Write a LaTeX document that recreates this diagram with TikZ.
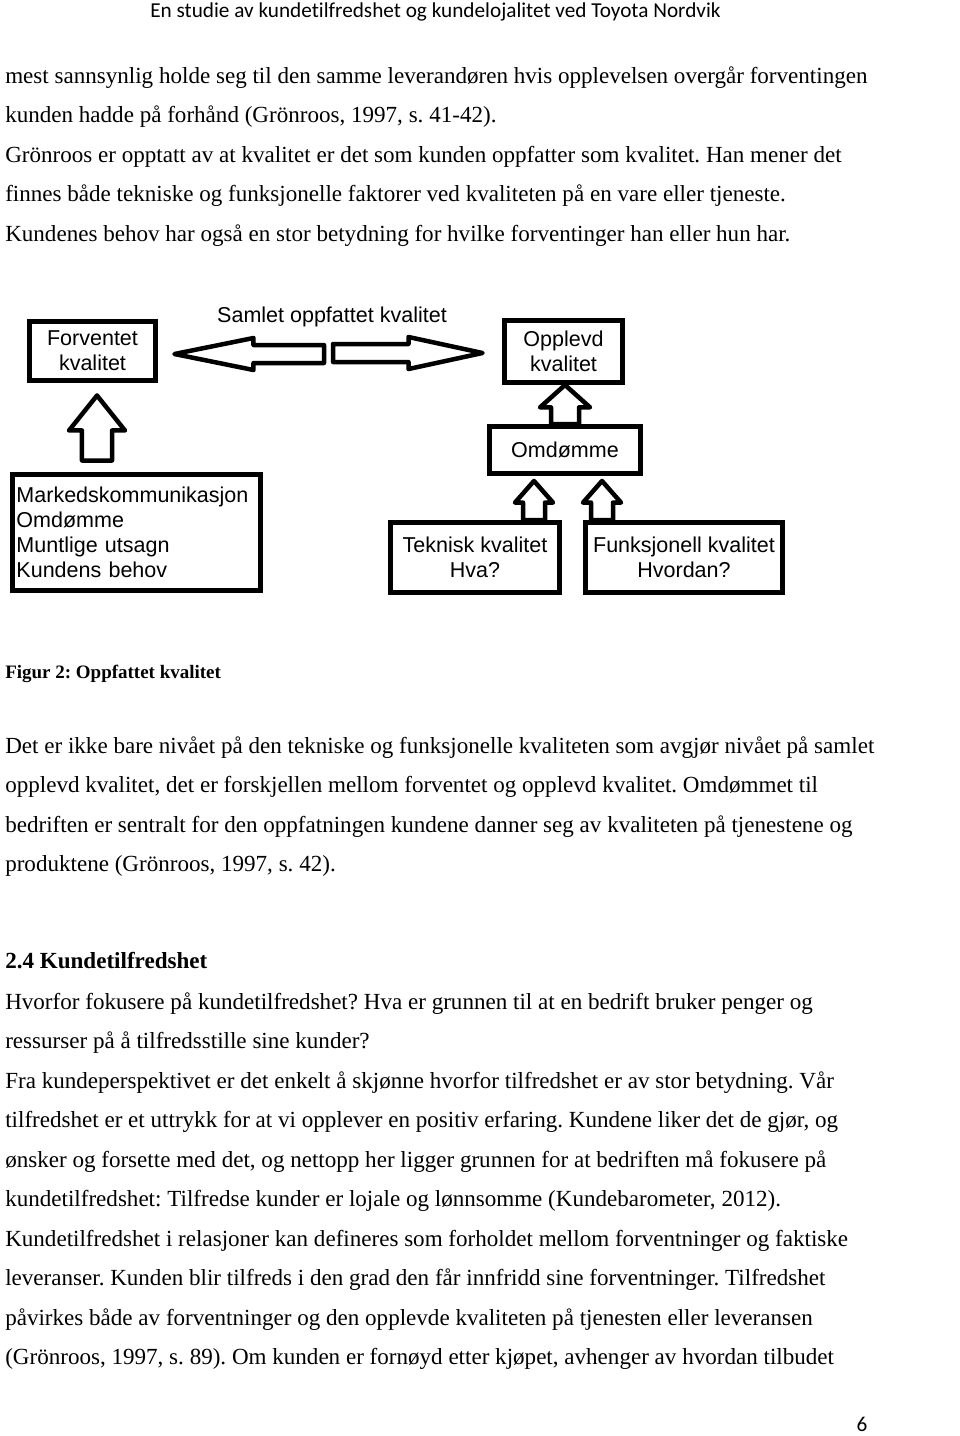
\documentclass[tikz,border=0pt]{standalone}
\usepackage{fontspec}
\setmainfont{Liberation Serif}[Ligatures={TeX,NoCommon}]
\newfontfamily\arialfam{Liberation Sans}[Ligatures=NoCommon]
\newfontfamily\calibfam{Carlito}[Ligatures=NoCommon]
\usetikzlibrary{calc}
\frenchspacing

\newcommand{\diagfont}{\arialfam\fontsize{15.3}{17.8}\selectfont}
\newcommand{\bodyfont}{\fontsize{16.4}{28}\selectfont}

% hollow block arrows: bottom/start, tip, shaft half width, head half width, head length
\newcommand{\blockup}[5]{%
  \draw[blockarr] let \p1=(#1), \p2=(#2) in
    (\x1-#3,\y1) -- (\x1-#3,\y2-#5) -- (\x1-#4,\y2-#5) -- (\x1,\y2)
    -- (\x1+#4,\y2-#5) -- (\x1+#3,\y2-#5) -- (\x1+#3,\y1) -- cycle;}
\newcommand{\blockside}[5]{%
  \draw[blockarr] let \p1=(#1), \p2=(#2) in
    (\x1,{\y2-#3}) -- ({\x2-(#5)},{\y2-#3}) -- ({\x2-(#5)},{\y2-#4}) -- (\x2,\y2)
    -- ({\x2-(#5)},{\y2+#4}) -- ({\x2-(#5)},{\y2+#3}) -- (\x1,{\y2+#3}) -- cycle;}

\tikzset{
  qbox/.style={draw, line width=3.5pt, font=\diagfont, align=center, inner sep=0pt},
  blockarr/.style={draw, fill=white, line width=3.2pt, line join=round},
  body/.style={anchor=base west, inner sep=0pt, font=\bodyfont},
}

\begin{document}
\begin{tikzpicture}[x=0.025cm,y=-0.025cm]
  \fill[white] (0,0) rectangle (960,1436);
  \useasboundingbox (0,0) rectangle (960,1436);

  \node[anchor=base west, inner sep=0pt, font=\calibfam\fontsize{15.1}{18}\selectfont] (hdr) at (150,17)
    {En studie av kundetilfredshet og kundelojalitet ved Toyota Nordvik};

  \foreach \ln [count=\i] in {
    {mest sannsynlig holde seg til den samme leverandøren hvis opplevelsen overgår forventingen},
    {kunden hadde på forhånd (Grönroos, 1997, s. 41-42).},
    {Grönroos er opptatt av at kvalitet er det som kunden oppfatter som kvalitet. Han mener det},
    {finnes både tekniske og funksjonelle faktorer ved kvaliteten på en vare eller tjeneste.},
    {Kundenes behov har også en stor betydning for hvilke forventinger han eller hun har.}}
    \node[body] (pa-\i) at (5,{83+39.5*(\i-1)}) {\ln};

  % figure
  \node[qbox, minimum width=3.15cm, minimum height=1.475cm] (forv) at (92.5,351) {Forventet\\kvalitet};
  \node[qbox, minimum width=2.95cm, minimum height=1.55cm] (oppl) at (563.5,351.5) {Opplevd\\kvalitet};
  \node[qbox, minimum width=3.775cm, minimum height=1.175cm] (omd) at (565,450) {Omdømme};
  \node[qbox, minimum width=6.2cm, minimum height=2.9cm, text width=6.0cm, inner xsep=0.1cm, align=left]
    (mark) at (136.5,532.5) {Markedskommunikasjon\\Omdømme\\Muntlige utsagn\\Kundens behov};
  \node[qbox, minimum width=4.225cm, minimum height=1.75cm] (tek) at (475,557.5) {Teknisk kvalitet\\Hva?};
  \node[qbox, minimum width=4.925cm, minimum height=1.75cm] (funk) at (684,557.5) {Funksjonell kvalitet\\Hvordan?};

  \coordinate (mk) at ($(mark.north -| forv.south)+(4.5,-11.5)$);
  \coordinate (fv) at ($(forv.south)+(4.5,12.5)$);
  \blockup{mk}{fv}{0.375cm}{0.7cm}{0.875cm}
  \blockup{omd.north}{oppl.south}{0.35cm}{0.625cm}{0.56cm}
  \coordinate (t1) at ($(omd.south)+(-31,5)$);
  \coordinate (b1) at (t1 |- tek.north);
  \coordinate (t2) at ($(omd.south)+(37,5)$);
  \coordinate (b2) at (t2 |- funk.north);
  \blockup{b1}{t1}{0.275cm}{0.475cm}{0.54cm}
  \blockup{b2}{t2}{0.275cm}{0.475cm}{0.54cm}

  \coordinate (lt) at ($(forv.east)+(16.5,3)$);
  \coordinate (rt) at ($(oppl.west)+(-19.5,1.5)$);
  \coordinate (mid) at ($(lt)!0.5!(rt)$);
  \coordinate (le) at ($(mid)+(-4.5,0)$);
  \coordinate (rs) at ($(mid)+(4.5,0)$);
  \blockside{le}{lt}{0.225cm}{0.4cm}{-1.975cm}
  \blockside{rs}{rt}{0.225cm}{0.4cm}{1.85cm}
  \node[font=\diagfont, anchor=base, inner sep=0pt] (samlet) at ($(mid)+(3.5,-31)$) {Samlet oppfattet kvalitet};

  \node[anchor=base west, inner sep=0pt, font=\bfseries\fontsize{13.5}{16}\selectfont] (cap) at (5,678)
    {Figur 2: Oppfattet kvalitet};

  \foreach \ln [count=\i] in {
    {Det er ikke bare nivået på den tekniske og funksjonelle kvaliteten som avgjør nivået på samlet},
    {opplevd kvalitet, det er forskjellen mellom forventet og opplevd kvalitet. Omdømmet til},
    {bedriften er sentralt for den oppfatningen kundene danner seg av kvaliteten på tjenestene og},
    {produktene (Grönroos, 1997, s. 42).}}
    \node[body] (pb-\i) at (5,{753+39.5*(\i-1)}) {\ln};

  \node[body, font=\bodyfont\bfseries] (sec) at (5,968) {2.4 Kundetilfredshet};

  \foreach \ln [count=\i] in {
    {Hvorfor fokusere på kundetilfredshet? Hva er grunnen til at en bedrift bruker penger og},
    {ressurser på å tilfredsstille sine kunder?},
    {Fra kundeperspektivet er det enkelt å skjønne hvorfor tilfredshet er av stor betydning. Vår},
    {tilfredshet er et uttrykk for at vi opplever en positiv erfaring. Kundene liker det de gjør, og},
    {ønsker og forsette med det, og nettopp her ligger grunnen for at bedriften må fokusere på},
    {kundetilfredshet: Tilfredse kunder er lojale og lønnsomme (Kundebarometer, 2012).},
    {Kundetilfredshet i relasjoner kan defineres som forholdet mellom forventninger og faktiske},
    {leveranser. Kunden blir tilfreds i den grad den får innfridd sine forventninger. Tilfredshet},
    {påvirkes både av forventninger og den opplevde kvaliteten på tjenesten eller leveransen},
    {(Grönroos, 1997, s. 89). Om kunden er fornøyd etter kjøpet, avhenger av hvordan tilbudet}}
    \node[body] (pc-\i) at (5,{1009+39.5*(\i-1)}) {\ln};

  \node[anchor=base, inner sep=0pt, font=\calibfam\fontsize{15.1}{18}\selectfont] (pnum) at (862,1431) {6};
\end{tikzpicture}
\end{document}
